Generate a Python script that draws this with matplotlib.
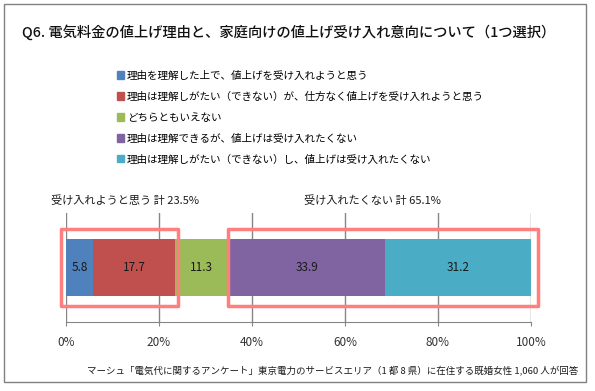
import numpy as np
import matplotlib
matplotlib.use("Agg")
import matplotlib.pyplot as plt
from matplotlib.patches import Patch, Rectangle

plt.rcParams['font.family'] = ['Noto Sans CJK JP', 'DejaVu Sans']

# data
labels = ['理由を理解した上で、値上げを受け入れようと思う',
          '理由は理解しがたい（できない）が、仕方なく値上げを受け入れようと思う',
          'どちらともいえない',
          '理由は理解できるが、値上げは受け入れたくない',
          '理由は理解しがたい（できない）し、値上げは受け入れたくない']
values = [5.8, 17.7, 11.3, 33.9, 31.2]
colors = ['#4F81BD', '#C0504D', '#9BBB59', '#8064A2', '#4BACC6']
ticks = [0, 20, 40, 60, 80, 100]
accept_total = 23.5
reject_total = 65.1

title = 'Q6. 電気料金の値上げ理由と、家庭向けの値上げ受け入れ意向について（1つ選択）'
note = 'マーシュ「電気代に関するアンケート」東京電力のサービスエリア（1 都 8 県）に在住する既婚女性 1,060 人が回答'

W, H = 595, 391
fig = plt.figure(figsize=(W / 100, H / 100), dpi=100)
ax = fig.add_axes([66 / W, 1 - 322 / H, (531 - 66) / W, (322 - 213) / H])

left = np.concatenate([[0], np.cumsum(values)[:-1]])
bar_h = 0.523
for v, l, c in zip(values, left, colors):
    ax.barh(0, v, left=l, height=bar_h, color=c, zorder=3)
    ax.text(l + v / 2, 0, f'{v:.1f}', ha='center', va='center',
            fontsize=8.5, color='#1a1a1a', zorder=4)

ax.set_xlim(0, 100)
ax.set_ylim(-0.5, 0.5)
ax.set_xticks(ticks)
ax.set_xticklabels([f'{t}%' for t in ticks], fontsize=8.5, color='#333333')
ax.set_yticks([])
ax.grid(axis='x', color='#868686', lw=1, zorder=0)
for s in ['top', 'left', 'right']:
    ax.spines[s].set_visible(False)
ax.spines['bottom'].set_color('#868686')
ax.tick_params(axis='x', color='#868686', length=3, pad=7)

# highlight boxes
cum = np.cumsum(values)
box_kw = dict(fill=False, ec='#FF7F7F', lw=2.5, joinstyle='round', clip_on=False, zorder=5)
ax.add_patch(Rectangle((-1.1, -0.353), cum[1] + 1.1 + 0.6, 0.706, **box_kw))
ax.add_patch(Rectangle((cum[2], -0.353), 101.5 - cum[2], 0.706, **box_kw))

fig.text(51 / W, 1 - 201 / H, f'受け入れようと思う 計 {accept_total}%', fontsize=8,
         va='center', ha='left', color='#1a1a1a')
fig.text(372 / W, 1 - 201 / H, f'受け入れたくない 計 {reject_total}%', fontsize=8,
         va='center', ha='center', color='#1a1a1a')

fig.text(22 / W, 1 - 32 / H, title, fontsize=10.3, fontweight='medium',
         va='center', ha='left', color='#111111')
fig.text(578 / W, 1 - 370 / H, note, fontsize=6.8, va='center', ha='right', color='#1a1a1a')

handles = [Patch(color=c) for c in colors]
fig.legend(handles, labels, loc='upper left', bbox_to_anchor=(117 / W, 1 - 70.5 / H),
           frameon=False, fontsize=7.6, handlelength=0.7, handleheight=0.7,
           handletextpad=0.25, labelspacing=1.03, borderpad=0, borderaxespad=0)

fig.patches.append(Rectangle((4 / W, 1 - 382 / H), 582 / W, 378 / H, fill=False,
                             ec='#808080', lw=1, transform=fig.transFigure))

fig.savefig('out.png', dpi=100)
